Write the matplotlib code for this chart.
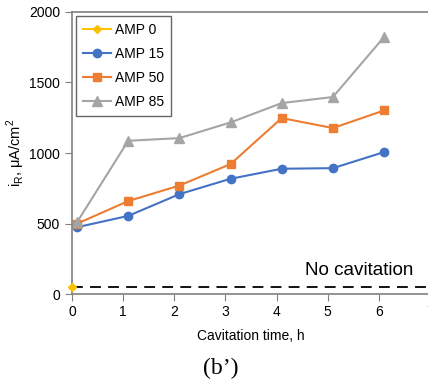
import numpy as np
import matplotlib.pyplot as plt

plt.rcParams['font.family'] = ['Liberation Sans', 'DejaVu Sans']

# valeurs
hours = [0.1, 1.1, 2.1, 3.1, 4.1, 5.1, 6.1]
amp15 = [475, 555, 709, 818, 889, 893, 1007]
amp50 = [500, 660, 770, 922, 1248, 1177, 1302]
amp85 = [510, 1087, 1106, 1217, 1354, 1397, 1822]
amp0_x = [0]
amp0_y = [50]
no_cav_level = 50

fig = plt.figure(figsize=(4.28, 3.82), dpi=100)
ax = fig.add_axes([0.168, 0.2296, 0.837, 0.7394])

ax.plot(amp0_x, amp0_y, color='#FFC000', marker='D', markersize=4.5, lw=1.5, label='AMP 0', clip_on=False, zorder=5)
ax.plot(hours, amp15, color='#4472C4', marker='o', markersize=6, lw=1.5, label='AMP 15')
ax.plot(hours, amp50, color='#ED7D31', marker='s', markersize=6, lw=1.5, label='AMP 50')
ax.plot(hours, amp85, color='#A5A5A5', marker='^', markersize=6.5, lw=1.5, label='AMP 85')

ax.axhline(no_cav_level, color='black', lw=1.3, ls=(0, (6, 4)), zorder=1)
ax.text(4.55, 167, 'No cavitation', fontsize=13.6, va='center', ha='left')

ax.set_xlim(0, 7)
ax.set_ylim(0, 2000)
ax.set_xticks(range(0, 8))
ax.set_yticks([0, 500, 1000, 1500, 2000])
ax.tick_params(labelsize=10, color='#808080', length=5, direction='out')
ax.tick_params(axis='x', pad=3)
ax.spines['right'].set_visible(False)
for s in ['left', 'top', 'bottom']:
    ax.spines[s].set_color('#808080')
    ax.spines[s].set_linewidth(1.2)

ax.set_xlabel('Cavitation time, h', fontsize=10, labelpad=7)
ax.set_ylabel(r'i$_\mathregular{R}$, μA/cm$^\mathregular{2}$', fontsize=10.5)
ax.yaxis.set_label_coords(-0.125, 0.5)

leg = ax.legend(loc='upper left', fontsize=10, frameon=True, fancybox=False,
                edgecolor='#404040', handlelength=2.0, handletextpad=0.3,
                borderpad=0.5, labelspacing=0.72, borderaxespad=0,
                bbox_to_anchor=(0.011, 0.986))
leg.get_frame().set_linewidth(1.0)

fig.text(0.515, 0.035, '(b’)', fontsize=17, family='Liberation Serif', ha='center', va='center')

fig.savefig('out.png', dpi=100)
